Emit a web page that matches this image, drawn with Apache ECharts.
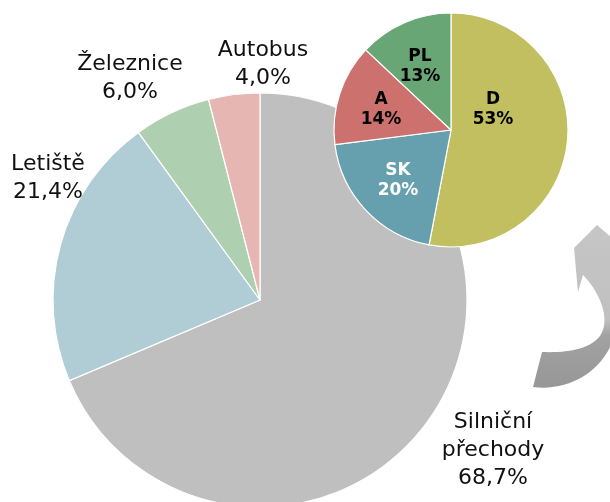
<!DOCTYPE html>
<html>
<head>
<meta charset="utf-8">
<script src="https://cdn.jsdelivr.net/npm/echarts@6/dist/echarts.min.js"></script>
<style>
  html, body { margin: 0; padding: 0; background: #fff; }
  #chart { width: 610px; height: 502px; }
</style>
</head>
<body>
<div id="chart"></div>
<script>
// hraniční přechody – podíl podle typu
const mainNames = ['Silniční\npřechody', 'Letiště', 'Železnice', 'Autobus']
const mainValues = [68.7, 21.4, 6.0, 4.0]
const mainLabels = ['68,7%', '21,4%', '6,0%', '4,0%']
const mainColors = ['#bfbfbf', '#b0cdd5', '#aecfb0', '#e5b6b2']

// silniční přechody – podle sousední země
const smallNames = ['D', 'SK', 'A', 'PL']
const smallValues = [53, 20, 14, 13]
const smallColors = ['#c2bf61', '#669fad', '#cc716d', '#69a676']

// label anchor points (px)
const mainLabelPos = [[493, 450], [48, 178], [130, 78], [263, 64]]
const smallLabelPos = [[493, 110], [398, 181], [381, 110], [420, 67]]

const font = '"DejaVu Sans", Verdana, sans-serif'

// curved arrow on the right side
echarts.graphic.registerShape('curvedArrow', echarts.graphic.extendPath(
  'M597 225 L574 248 L578 292 L583 275 C598 290 612 318 600 336 ' +
  'C590 349 568 353 542 352 L533 387 C572 392 608 368 616 330 ' +
  'C622 300 618 270 612 255 L626 250 Z'
))

let myChart = echarts.init(document.getElementById('chart'))
myChart.setOption({
  animation: false,
  graphic: [
    {
      type: 'curvedArrow',
      z: 0,
      shape: {},
      style: {
        fill: new echarts.graphic.LinearGradient(0, 0, 0, 1, [
          {offset: 0, color: '#c6c6c6'},
          {offset: 0.58, color: '#c0c0c0'},
          {offset: 0.68, color: '#a2a2a2'},
          {offset: 1, color: '#979797'}
        ])
      }
    }
  ],
  series: [
    {
      type: 'pie',
      z: 2,
      center: [260, 300],
      radius: 207,
      startAngle: 90,
      clockwise: true,
      avoidLabelOverlap: false,
      itemStyle: {
        borderColor: '#fff',
        borderWidth: 1.2
      },
      label: {
        show: true,
        position: 'outside',
        fontFamily: font,
        fontSize: 22,
        lineHeight: 28,
        color: '#111',
        align: 'center',
        formatter: p => p.name + '\n' + mainLabels[p.dataIndex]
      },
      labelLine: {show: false},
      labelLayout: params => ({
        x: mainLabelPos[params.dataIndex][0],
        y: mainLabelPos[params.dataIndex][1],
        align: 'center',
        verticalAlign: 'middle'
      }),
      emphasis: {disabled: true},
      data: mainNames.map((n, i) => ({
        name: n,
        value: mainValues[i],
        itemStyle: {color: mainColors[i]}
      }))
    },
    {
      type: 'pie',
      z: 3,
      center: [451, 130],
      radius: 117,
      startAngle: 90,
      clockwise: true,
      avoidLabelOverlap: false,
      itemStyle: {
        borderColor: '#fff',
        borderWidth: 1.2
      },
      label: {
        show: true,
        position: 'inside',
        fontFamily: font,
        fontSize: 17,
        fontWeight: 'bold',
        lineHeight: 20,
        align: 'center',
        color: '#000',
        formatter: p => p.name + '\n' + p.value + '%'
      },
      labelLayout: params => ({
        x: smallLabelPos[params.dataIndex][0],
        y: smallLabelPos[params.dataIndex][1],
        align: 'center',
        verticalAlign: 'middle'
      }),
      emphasis: {disabled: true},
      data: smallNames.map((n, i) => ({
        name: n,
        value: smallValues[i],
        itemStyle: {color: smallColors[i]},
        label: n === 'SK' ? {color: '#fff'} : undefined
      }))
    }
  ]
})
</script>
</body>
</html>
